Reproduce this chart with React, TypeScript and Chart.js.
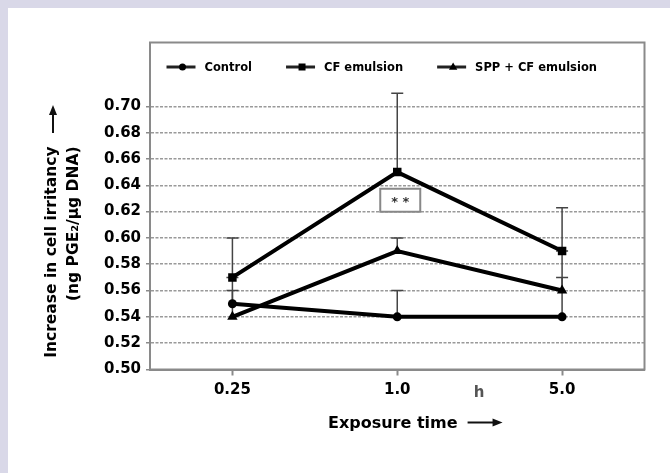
import React, { useEffect, useRef } from 'react';
import { Chart, registerables } from 'chart.js';

Chart.register(...registerables);

const labels = ['0.25', '1.0', '5.0'];
const seriesNames = ['Control', 'CF emulsion', 'SPP + CF emulsion'];
const controlValues = [0.55, 0.54, 0.54];
const cfValues = [0.57, 0.65, 0.59];
const sppValues = [0.54, 0.59, 0.56];
const controlErr = [0.02, 0.02, 0.03];
const cfErr = [0.03, 0.06, 0.033];
const sppErr = [0.02, 0.01, 0.03];
const yMin = 0.5;
const yMax = 0.7485;
const yTickMax = 0.7;
const yStep = 0.02;
const unitLabel = 'h';
const significance = { index: 1, value: 0.629, text: '* *' };
const xTitle = 'Exposure time';
const yTitleLines = ['Increase in cell irritancy', '(ng PGE\u2082/\u03bcg DNA)'];

const FONT = '"DejaVu Sans", sans-serif';
const GRAY = '#8a8a8a';

function drawMarker(ctx: CanvasRenderingContext2D, style: string, x: number, y: number, r: number) {
  ctx.beginPath();
  if (style === 'rect') {
    ctx.rect(x - r, y - r, 2 * r, 2 * r);
  } else if (style === 'triangle') {
    ctx.moveTo(x, y - r * 1.3);
    ctx.lineTo(x + r * 1.2, y + r * 0.8);
    ctx.lineTo(x - r * 1.2, y + r * 0.8);
    ctx.closePath();
  } else {
    ctx.arc(x, y, r, 0, Math.PI * 2);
  }
  ctx.fill();
}

function arrow(ctx: CanvasRenderingContext2D, x1: number, y1: number, x2: number, y2: number) {
  const ang = Math.atan2(y2 - y1, x2 - x1);
  const hl = 10;
  const hw = 4;
  ctx.save();
  ctx.strokeStyle = '#111';
  ctx.fillStyle = '#111';
  ctx.lineWidth = 2;
  ctx.beginPath();
  ctx.moveTo(x1, y1);
  ctx.lineTo(x2 - Math.cos(ang) * hl * 0.8, y2 - Math.sin(ang) * hl * 0.8);
  ctx.stroke();
  ctx.beginPath();
  ctx.moveTo(x2, y2);
  ctx.lineTo(x2 - Math.cos(ang) * hl - Math.sin(ang) * hw, y2 - Math.sin(ang) * hl + Math.cos(ang) * hw);
  ctx.lineTo(x2 - Math.cos(ang) * hl + Math.sin(ang) * hw, y2 - Math.sin(ang) * hl - Math.cos(ang) * hw);
  ctx.closePath();
  ctx.fill();
  ctx.restore();
}

const bgPlugin = {
  id: 'bg',
  beforeDraw(chart: any) {
    const ctx = chart.ctx;
    ctx.save();
    ctx.fillStyle = '#ffffff';
    ctx.fillRect(0, 0, chart.width, chart.height);
    ctx.restore();
  },
};

const errorBarPlugin = {
  id: 'errorBars',
  beforeDatasetsDraw(chart: any) {
    const ctx = chart.ctx;
    const y = chart.scales.y;
    ctx.save();
    ctx.strokeStyle = '#444';
    ctx.lineWidth = 1.5;
    chart.data.datasets.forEach((ds: any, di: number) => {
      const meta = chart.getDatasetMeta(di);
      ds.errors.forEach((e: number, i: number) => {
        const pt = meta.data[i];
        const y0 = y.getPixelForValue(ds.data[i]);
        const y1 = y.getPixelForValue(ds.data[i] + e);
        ctx.beginPath();
        ctx.moveTo(pt.x, y0);
        ctx.lineTo(pt.x, y1);
        ctx.moveTo(pt.x - 6, y1);
        ctx.lineTo(pt.x + 6, y1);
        ctx.stroke();
      });
    });
    ctx.restore();
  },
};

const decorPlugin = {
  id: 'decor',
  afterDraw(chart: any) {
    const ctx = chart.ctx;
    const a = chart.chartArea;
    const xs = chart.scales.x;
    const ys = chart.scales.y;
    ctx.save();
    // box
    ctx.strokeStyle = GRAY;
    ctx.lineWidth = 2;
    ctx.strokeRect(a.left, a.top, a.right - a.left, a.bottom - a.top);

    // legend inside
    ctx.font = 'bold 11.5px ' + FONT;
    ctx.textBaseline = 'middle';
    ctx.textAlign = 'left';
    let lx = a.left + 16.5;
    const ly = a.top + 24.5;
    chart.data.datasets.forEach((ds: any) => {
      ctx.strokeStyle = '#222';
      ctx.lineWidth = 3;
      ctx.beginPath();
      ctx.moveTo(lx, ly);
      ctx.lineTo(lx + 29, ly);
      ctx.stroke();
      ctx.fillStyle = '#000';
      drawMarker(ctx, ds.pointStyle, lx + 16, ly, 3.5);
      ctx.fillStyle = '#000';
      ctx.fillText(ds.label, lx + 38, ly + 1);
      lx += 38 + ctx.measureText(ds.label).width + 34;
    });

    // significance box
    const sx = xs.getPixelForValue(significance.index) + 3;
    const sy = ys.getPixelForValue(significance.value);
    ctx.fillStyle = '#fff';
    ctx.fillRect(sx - 20, sy - 11, 40, 23);
    ctx.strokeStyle = '#888';
    ctx.lineWidth = 2;
    ctx.strokeRect(sx - 20, sy - 11, 40, 23);
    ctx.fillStyle = '#333';
    ctx.font = 'bold 13px ' + FONT;
    ctx.textAlign = 'center';
    ctx.fillText(significance.text, sx, sy + 3);

    // unit label "h"
    const hx = (xs.getPixelForValue(1) + xs.getPixelForValue(2)) / 2 - 0.5;
    ctx.fillStyle = '#555';
    ctx.font = 'bold 15px ' + FONT;
    ctx.textAlign = 'center';
    ctx.textBaseline = 'alphabetic';
    ctx.fillText(unitLabel, hx, 389);

    // x title
    ctx.fillStyle = '#000';
    ctx.font = 'bold 16px ' + FONT;
    ctx.textAlign = 'left';
    ctx.fillText(xTitle, 320, 420);
    const tw = ctx.measureText(xTitle).width;
    arrow(ctx, 320 + tw + 10, 414.5, 320 + tw + 45, 414.5);

    // y title
    ctx.save();
    ctx.font = 'bold 15.5px ' + FONT;
    ctx.textAlign = 'right';
    ctx.textBaseline = 'alphabetic';
    ctx.fillStyle = '#000';
    ctx.translate(47.5, 138.5);
    ctx.rotate(-Math.PI / 2);
    ctx.fillText(yTitleLines[0], 0, 0);
    ctx.fillText(yTitleLines[1], 0, 22.5);
    ctx.restore();
    arrow(ctx, 45, 125, 45, 97);

    ctx.restore();
  },
};

export default function App() {
  const ref = useRef<HTMLCanvasElement | null>(null);
  useEffect(() => {
    document.body.style.margin = '0';
    document.body.style.background = '#ffffff';
    document.body.style.overflow = 'hidden';
    const chart = new Chart(ref.current as HTMLCanvasElement, {
      type: 'line',
      data: {
        labels,
        datasets: [
          { label: seriesNames[0], data: controlValues, errors: controlErr, pointStyle: 'circle', pointRadius: 4.5 } as any,
          { label: seriesNames[1], data: cfValues, errors: cfErr, pointStyle: 'rect', pointRadius: 6 } as any,
          { label: seriesNames[2], data: sppValues, errors: sppErr, pointStyle: 'triangle', pointRadius: 6 } as any,
        ].map((d: any) => ({
          ...d,
          borderColor: '#000',
          backgroundColor: '#000',
          pointBackgroundColor: '#000',
          pointBorderColor: '#000',
          pointBorderWidth: 0,
          borderWidth: 4,
          tension: 0,
          fill: false,
        })),
      },
      options: {
        responsive: false,
        animation: false,
        layout: { padding: { top: 34.5, right: 25.5, left: 0, bottom: 0 } },
        plugins: { legend: { display: false }, tooltip: { enabled: false } },
        scales: {
          x: {
            type: 'category',
            offset: true,
            grid: { offset: false, drawOnChartArea: false, drawTicks: true, tickLength: 6, tickColor: GRAY, tickWidth: 2 },
            border: { color: GRAY, width: 2 },
            ticks: { color: '#000', font: { family: FONT, size: 15, weight: 'bold' }, padding: 6 },
            afterFit: (s: any) => { s.height = 103.5; },
          },
          y: {
            min: yMin,
            max: yMax,
            grid: { color: '#9a9a9a', lineWidth: 1.5, tickLength: 4, tickColor: GRAY, tickBorderDash: [], tickWidth: 1.5 },
            border: { color: GRAY, width: 2, dash: [3, 1.5] },
            ticks: {
              stepSize: yStep,
              color: '#000',
              font: { family: FONT, size: 15, weight: 'bold' },
              padding: 5,
              callback: (v: any) => Number(v).toFixed(2),
            },
            afterBuildTicks: (s: any) => { s.ticks = s.ticks.filter((t: any) => t.value <= yTickMax + 1e-6); },
            afterFit: (s: any) => { s.width = 142; },
          },
        },
      } as any,
      plugins: [bgPlugin, errorBarPlugin, decorPlugin],
    });
    return () => chart.destroy();
  }, []);
  return (
    <div
      style={{
        width: 670,
        height: 473,
        boxSizing: 'border-box',
        paddingLeft: 8,
        paddingTop: 8,
        background: '#d9d8e8',
        overflow: 'hidden',
      }}
    >
      <canvas ref={ref} width={662} height={465} style={{ display: 'block' }} />
    </div>
  );
}
